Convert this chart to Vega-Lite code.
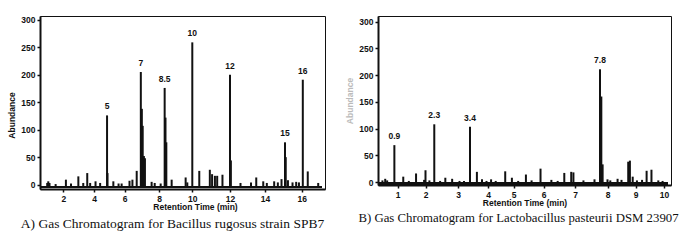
{
  "$schema": "https://vega.github.io/schema/vega-lite/v6.json",
  "background": "white",
  "padding": {"left": 7, "top": 15, "right": 2, "bottom": 2},
  "spacing": 19,
  "datasets": {
    "A": [
      {"t": 4.85, "h": 126, "label": "5"}, {"t": 4.88, "h": 21},
      {"t": 6.94, "h": 205, "label": "7"}, {"t": 7.0, "h": 138}, {"t": 7.05, "h": 107}, {"t": 7.12, "h": 52}, {"t": 7.18, "h": 48},
      {"t": 8.34, "h": 176, "label": "8.5"}, {"t": 8.39, "h": 122}, {"t": 8.44, "h": 77},
      {"t": 10.0, "h": 259, "label": "10"},
      {"t": 12.0, "h": 200, "label": "12"}, {"t": 12.05, "h": 44},
      {"t": 15.09, "h": 77, "label": "15"}, {"t": 15.13, "h": 50},
      {"t": 16.06, "h": 191, "label": "16"},
      {"t": 0.95, "h": 3}, {"t": 1.02, "h": 6}, {"t": 1.1, "h": 3}, {"t": 1.5, "h": 1},
      {"t": 2.17, "h": 9}, {"t": 2.5, "h": 2}, {"t": 2.98, "h": 15}, {"t": 3.3, "h": 3},
      {"t": 3.56, "h": 21}, {"t": 3.75, "h": 3}, {"t": 4.1, "h": 6}, {"t": 4.4, "h": 3},
      {"t": 5.26, "h": 6}, {"t": 5.6, "h": 2}, {"t": 5.8, "h": 2}, {"t": 6.28, "h": 7},
      {"t": 6.45, "h": 9}, {"t": 6.7, "h": 25}, {"t": 7.57, "h": 5}, {"t": 7.75, "h": 3},
      {"t": 8.1, "h": 2}, {"t": 8.76, "h": 9}, {"t": 9.6, "h": 13}, {"t": 9.7, "h": 4},
      {"t": 10.37, "h": 25}, {"t": 10.93, "h": 27}, {"t": 11.05, "h": 19}, {"t": 11.2, "h": 16},
      {"t": 11.32, "h": 16}, {"t": 11.6, "h": 18}, {"t": 12.6, "h": 3}, {"t": 13.2, "h": 4},
      {"t": 13.5, "h": 13}, {"t": 13.9, "h": 6}, {"t": 14.1, "h": 3}, {"t": 14.5, "h": 6},
      {"t": 14.7, "h": 4}, {"t": 14.9, "h": 10}, {"t": 15.25, "h": 8}, {"t": 15.5, "h": 4},
      {"t": 15.7, "h": 5}, {"t": 15.85, "h": 4}, {"t": 16.33, "h": 24}, {"t": 16.9, "h": 3}
    ],
    "B": [
      {"t": 0.88, "h": 69, "label": "0.9"}, {"t": 2.27, "h": 108, "label": "2.3"},
      {"t": 3.4, "h": 103.5, "label": "3.4"}, {"t": 7.77, "h": 211, "label": "7.8"},
      {"t": 7.81, "h": 160}, {"t": 7.85, "h": 33},
      {"t": 0.45, "h": 3}, {"t": 0.55, "h": 6}, {"t": 0.62, "h": 3}, {"t": 1.2, "h": 10},
      {"t": 1.4, "h": 2}, {"t": 1.66, "h": 16}, {"t": 1.95, "h": 4}, {"t": 2.0, "h": 22},
      {"t": 2.12, "h": 3}, {"t": 2.45, "h": 2}, {"t": 2.61, "h": 8}, {"t": 2.82, "h": 6},
      {"t": 3.05, "h": 2}, {"t": 3.2, "h": 2}, {"t": 3.63, "h": 19}, {"t": 3.8, "h": 5},
      {"t": 3.95, "h": 2}, {"t": 4.12, "h": 5}, {"t": 4.3, "h": 2}, {"t": 4.67, "h": 20},
      {"t": 4.93, "h": 8}, {"t": 5.15, "h": 2}, {"t": 5.41, "h": 14}, {"t": 5.6, "h": 3},
      {"t": 5.9, "h": 25}, {"t": 6.25, "h": 4}, {"t": 6.45, "h": 2}, {"t": 6.66, "h": 17},
      {"t": 6.88, "h": 19}, {"t": 6.95, "h": 18}, {"t": 7.26, "h": 3}, {"t": 7.6, "h": 5},
      {"t": 8.0, "h": 5}, {"t": 8.1, "h": 3}, {"t": 8.36, "h": 6}, {"t": 8.5, "h": 4},
      {"t": 8.74, "h": 38}, {"t": 8.8, "h": 40}, {"t": 8.9, "h": 10}, {"t": 9.05, "h": 3},
      {"t": 9.23, "h": 4}, {"t": 9.39, "h": 21}, {"t": 9.56, "h": 23}, {"t": 9.8, "h": 3},
      {"t": 9.95, "h": 2}
    ]
  },
  "config": {
    "view": {"stroke": "#111", "strokeWidth": 1},
    "axis": {
      "grid": false,
      "labelOverlap": false,
      "labelBound": false,
      "labelFlush": false,
      "domainColor": "#111",
      "domainWidth": 2,
      "tickColor": "#111",
      "tickWidth": 1.5,
      "tickSize": 3,
      "labelFont": "Liberation Sans",
      "labelFontWeight": "bold",
      "labelFontSize": 8.5,
      "labelColor": "#111",
      "labelPadding": 2,
      "titleFont": "Liberation Sans",
      "titleFontWeight": "bold",
      "titleFontSize": 8.5,
      "titleColor": "#111"
    },
    "title": {"font": "Liberation Serif", "fontSize": 13.5, "fontWeight": "normal", "color": "#111"}
  },
  "hconcat": [
    {
      "width": 285,
      "height": 173,
      "title": {"text": "A) Gas Chromatogram for Bacillus rugosus strain SPB7", "orient": "bottom", "dx": -10, "offset": 6},
      "encoding": {
        "x": {"field": "t", "type": "quantitative",
          "scale": {"domain": [0.48, 2, 4, 6, 8, 10, 12, 14, 16, 17.27], "range": [0, 23.3, 54, 84.7, 119, 152.3, 190, 225, 261.7, 285], "zero": false, "nice": false},
          "axis": {"values": [2, 4, 6, 8, 10, 12, 14, 16], "format": "d", "title": "Retention Time (min)", "titlePadding": 0, "titleX": 155}},
        "y": {"field": "h", "type": "quantitative",
          "scale": {"domain": [-8, 307], "zero": false, "nice": false},
          "axis": {"values": [0, 50, 100, 150, 200, 250, 300], "format": "d", "title": "Abundance", "titlePadding": 4, "titleY": 99}}
      },
      "layer": [
        {
          "data": {"name": "A"},
          "mark": {"type": "rule", "strokeWidth": 2, "color": "#111"},
          "encoding": {"y2": {"datum": -5}}
        },
        {
          "data": {"name": "A"},
          "mark": {"type": "rule", "strokeWidth": 1.5, "color": "#111"},
          "encoding": {
            "x": {"datum": 0.6, "type": "quantitative", "axis": {"values": [2, 4, 6, 8, 10, 12, 14, 16], "format": "d", "title": "Retention Time (min)", "titlePadding": 0, "titleX": 155}},
            "x2": {"datum": 17.1},
            "y": {"datum": -5, "type": "quantitative", "axis": {"values": [0, 50, 100, 150, 200, 250, 300], "format": "d", "title": "Abundance", "titlePadding": 4, "titleY": 99}}
          }
        },
        {
          "data": {"name": "A"},
          "transform": [{"filter": "isValid(datum.label)"}],
          "mark": {"type": "text", "font": "Liberation Sans", "fontWeight": "bold", "fontSize": 8.5, "baseline": "bottom", "dy": -4, "color": "#111"},
          "encoding": {"text": {"field": "label"}}
        }
      ]
    },
    {
      "width": 293,
      "height": 169,
      "title": {"text": "B) Gas Chromatogram for Lactobacillus pasteurii DSM 23907", "orient": "bottom", "offset": 5, "fontSize": 12.8, "dx": -6},
      "encoding": {
        "x": {"field": "t", "type": "quantitative",
          "scale": {"domain": [0.29, 1, 2, 3, 4, 5, 6, 7, 8, 9, 10, 10.2], "range": [0, 19.7, 47.5, 80, 110, 135.7, 165.5, 197, 229.5, 257.5, 286, 293], "zero": false, "nice": false},
          "axis": {"values": [1, 2, 3, 4, 5, 6, 7, 8, 9, 10], "format": "d", "title": "Retention Time (min)", "titlePadding": 0}},
        "y": {"field": "h", "type": "quantitative",
          "scale": {"domain": [-5.6, 310.7], "zero": false, "nice": false},
          "axis": {"values": [0, 50, 100, 150, 200, 250, 300], "format": "d", "title": "Abundance", "titlePadding": 4, "titleColor": "#bbb"}}
      },
      "layer": [
        {
          "data": {"name": "B"},
          "mark": {"type": "rule", "strokeWidth": 2, "color": "#111"},
          "encoding": {"y2": {"datum": -3}}
        },
        {
          "data": {"name": "B"},
          "mark": {"type": "rule", "strokeWidth": 1.5, "color": "#111"},
          "encoding": {
            "x": {"datum": 0.35, "type": "quantitative", "axis": {"values": [1, 2, 3, 4, 5, 6, 7, 8, 9, 10], "format": "d", "title": "Retention Time (min)", "titlePadding": 0}},
            "x2": {"datum": 10.1},
            "y": {"datum": -3, "type": "quantitative", "axis": {"values": [0, 50, 100, 150, 200, 250, 300], "format": "d", "title": "Abundance", "titlePadding": 4, "titleColor": "#bbb"}}
          }
        },
        {
          "data": {"name": "B"},
          "transform": [{"filter": "isValid(datum.label)"}],
          "mark": {"type": "text", "font": "Liberation Sans", "fontWeight": "bold", "fontSize": 8.5, "baseline": "bottom", "dy": -4, "color": "#111"},
          "encoding": {"text": {"field": "label"}}
        }
      ]
    }
  ]
}
